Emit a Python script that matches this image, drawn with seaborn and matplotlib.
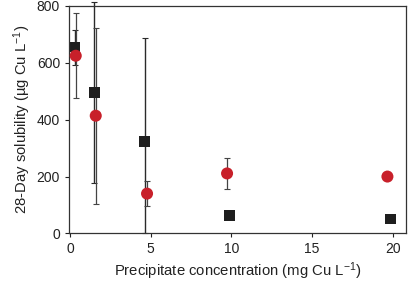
import numpy as np
import pandas as pd
import matplotlib
matplotlib.use("Agg")
import matplotlib.pyplot as plt
import seaborn as sns

# data
sq_x = [0.31, 1.51, 4.63, 9.88, 19.88]
sq_y = [656, 497, 322, 62, 51]
sq_err_lo = [62, 318, 322, 0, 0]
sq_err_hi = [58, 318, 365, 0, 0]

ci_x = [0.35, 1.59, 4.77, 9.73, 19.67]
ci_y = [625, 414, 140, 211, 200]
ci_err = [150, 309, 43, 56, 0]

sns.set_style("ticks")
plt.rcParams["font.family"] = ["Liberation Sans", "DejaVu Sans"]
plt.rcParams["mathtext.default"] = "regular"

fig = plt.figure(figsize=(4.09, 2.85), dpi=100)
ax = fig.add_axes([0.169, 0.181, 0.824, 0.798])

# error bars behind markers
ax.errorbar(sq_x, sq_y, yerr=[sq_err_lo, sq_err_hi], fmt="none", ecolor="#2a2a2a",
            elinewidth=1.0, capsize=2.2, capthick=0.8, clip_on=False, zorder=1)
ax.errorbar(ci_x, ci_y, yerr=ci_err, fmt="none", ecolor="#444444",
            elinewidth=0.9, capsize=2.2, capthick=0.8, clip_on=False, zorder=1)

sq = pd.DataFrame({"x": sq_x, "y": sq_y})
ci = pd.DataFrame({"x": ci_x, "y": ci_y})
sns.scatterplot(data=sq, x="x", y="y", marker="s", s=60, color="#1e1e1e",
                edgecolor="none", ax=ax, zorder=2, clip_on=False)
sns.scatterplot(data=ci, x="x", y="y", marker="o", s=75, color="#c8202a",
                edgecolor="none", ax=ax, zorder=3, clip_on=False)

ax.set_xlim(-0.06, 20.83)
ax.set_ylim(0, 800)
ax.set_xticks([0, 5, 10, 15, 20])
ax.set_yticks([0, 200, 400, 600, 800])
ax.set_xlabel("Precipitate concentration (mg Cu L$^{-1}$)", fontsize=10.7, color="#222222", labelpad=3)
ax.set_ylabel("28-Day solubility (µg Cu L$^{-1}$)", fontsize=10.7, color="#222222", labelpad=3)
ax.tick_params(labelsize=10, colors="#222222", length=3, width=0.8)
for s in ax.spines.values():
    s.set_visible(True)
    s.set_color("#333333")
    s.set_linewidth(0.9)

fig.savefig("out.png", dpi=100)
